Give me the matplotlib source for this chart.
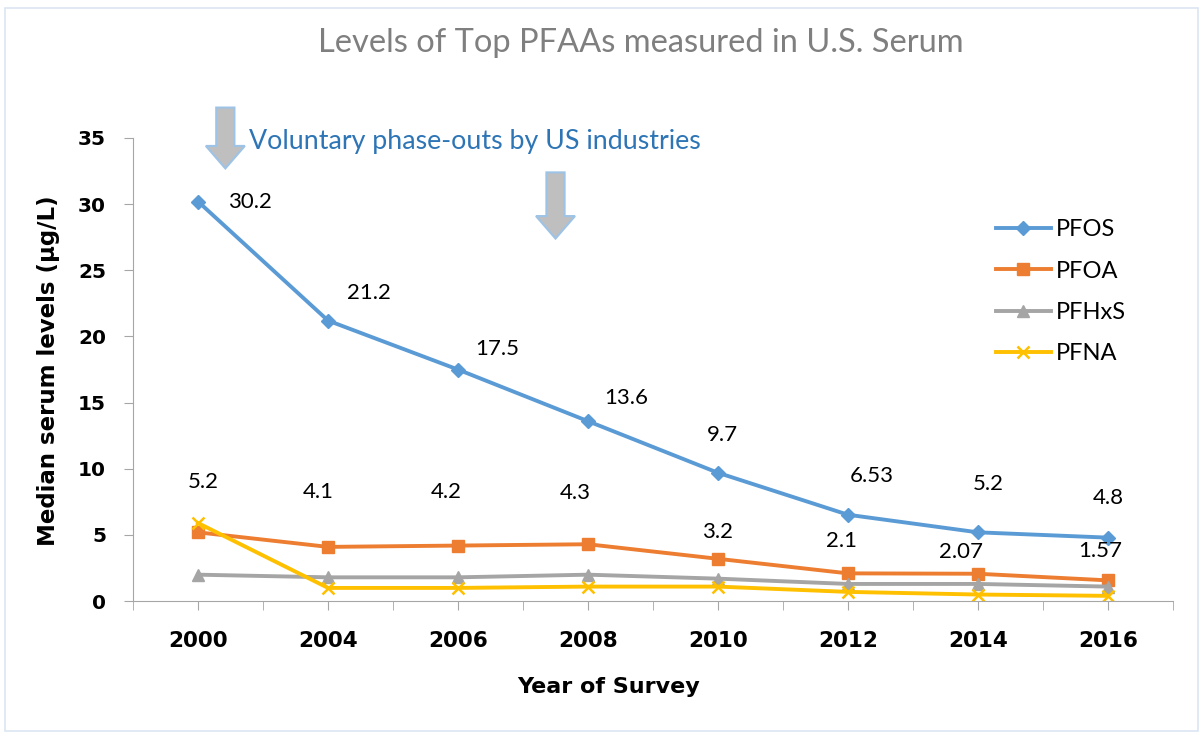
import matplotlib.pyplot as plt
from matplotlib.patches import FancyArrow, Rectangle

# Survey cycles and median serum concentrations (ug/L)
years = ["2000", "2004", "2006", "2008", "2010", "2012", "2014", "2016"]
pfos = [30.2, 21.2, 17.5, 13.6, 9.7, 6.53, 5.2, 4.8]
pfoa = [5.2, 4.1, 4.2, 4.3, 3.2, 2.1, 2.07, 1.57]
pfhxs = [2.0, 1.8, 1.8, 2.0, 1.7, 1.3, 1.3, 1.1]
pfna = [5.9, 1.0, 1.0, 1.1, 1.1, 0.7, 0.5, 0.4]

pfos_labels = ["30.2", "21.2", "17.5", "13.6", "9.7", "6.53", "5.2", "4.8"]
pfoa_labels = ["5.2", "4.1", "4.2", "4.3", "3.2", "2.1", "2.07", "1.57"]

# label offsets from each point, in pixels
pfos_offsets = [(52, 0), (41, 28), (39, 21), (38, 23), (4, 38), (24, 39), (10, 48), (0, 40)]
pfoa_offsets = [(5, 50), (-10, 55), (-12, 54), (-13, 51), (0, 27), (-6, 32), (-17, 22), (-8, 29)]

LABEL_FONT = "Lato"
BOLD_FONT = "DejaVu Sans"


def plot_serum_levels():
    fig = plt.figure(figsize=(12.03, 7.34), dpi=100)
    ax = fig.add_axes([0.1106, 0.181, 0.8644, 0.631])

    # thin frame around the whole chart area
    fig.patches.append(Rectangle((0.004, 0.004), 0.992, 0.985, transform=fig.transFigure,
                                 fill=False, edgecolor="#dce6f2", linewidth=1.2))

    x = list(range(len(years)))
    ax.plot(x, pfos, color="#5b9bd5", lw=2.8, marker="D", ms=7, label="PFOS")
    ax.plot(x, pfoa, color="#ed7d31", lw=2.8, marker="s", ms=8, label="PFOA")
    ax.plot(x, pfhxs, color="#a5a5a5", lw=2.8, marker="^", ms=8, label="PFHxS")
    ax.plot(x, pfna, color="#ffc000", lw=2.8, marker="x", ms=9, mew=1.8, label="PFNA")

    for xi, yi, txt, off in zip(x, pfos, pfos_labels, pfos_offsets):
        ax.annotate(txt, (xi, yi), xytext=off, textcoords="offset pixels",
                    ha="center", va="center", fontsize=16, family=LABEL_FONT)
    for xi, yi, txt, off in zip(x, pfoa, pfoa_labels, pfoa_offsets):
        ax.annotate(txt, (xi, yi), xytext=off, textcoords="offset pixels",
                    ha="center", va="center", fontsize=16, family=LABEL_FONT)

    ax.set_xlim(-0.5, 7.5)
    ax.set_ylim(0, 35)
    ax.set_xticks(x)
    ax.set_xticks([v + 0.5 for v in range(-1, 8)], minor=True)
    ax.set_xticklabels(years, fontsize=15.5, fontweight="bold", family=BOLD_FONT)
    ax.set_yticks(range(0, 36, 5))
    ax.set_yticklabels([str(v) for v in range(0, 36, 5)], fontsize=14.5,
                       fontweight="bold", family=BOLD_FONT)
    ax.tick_params(axis="x", which="both", length=6.5, color="#a6a6a6", pad=15)
    ax.tick_params(axis="y", length=6.5, color="#a6a6a6", pad=13)

    for side in ["top", "right"]:
        ax.spines[side].set_visible(False)
    ax.spines["left"].set_color("#a6a6a6")
    ax.spines["bottom"].set_color("#a6a6a6")

    ax.set_xlabel("Year of Survey", fontsize=16, fontweight="bold", family=BOLD_FONT)
    ax.set_ylabel("Median serum levels (μg/L)", fontsize=16.5, fontweight="bold",
                  family=BOLD_FONT)
    ax.xaxis.set_label_coords(0.457, -0.163)
    ax.yaxis.set_label_coords(-0.07, 0.497)

    fig.text(0.533, 0.942, "Levels of Top PFAAs measured in U.S. Serum", ha="center",
             va="center", fontsize=23.5, color="#7f7f7f", family=LABEL_FONT)

    # phase-out arrows
    for ax_x, top, bottom in [(0.21, 37.3, 32.7), (2.75, 32.4, 27.4)]:
        arrow = FancyArrow(ax_x, top, 0, bottom - top, width=0.14, head_width=0.3,
                           head_length=1.7, length_includes_head=True,
                           facecolor="#bfbfbf", edgecolor="#9dc3e6", linewidth=1.5,
                           clip_on=False, zorder=3)
        ax.add_patch(arrow)
    ax.text(0.39, 34.7, "Voluntary phase-outs by US industries", color="#2e75b6",
            fontsize=19.3, family=LABEL_FONT, va="center", ha="left")

    ax.legend(loc="upper left", bbox_to_anchor=(0.809, 0.87), frameon=False,
              prop={"family": LABEL_FONT, "size": 17}, handlelength=2.35,
              labelspacing=0.86, handletextpad=0.2)

    fig.savefig("out.png", dpi=100)


def main():
    plot_serum_levels()


if __name__ == "__main__":
    main()
